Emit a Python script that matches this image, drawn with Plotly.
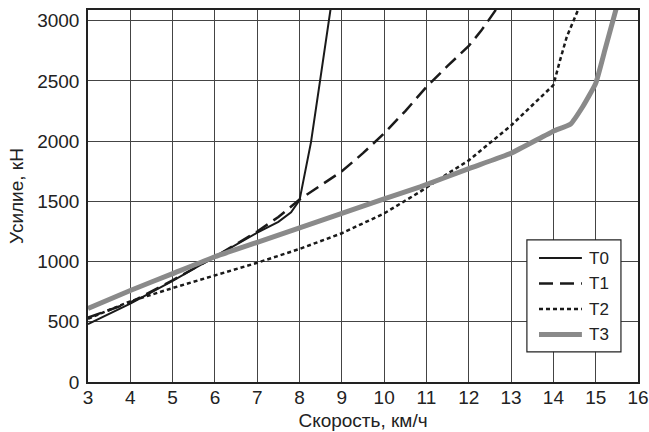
import plotly.graph_objects as go

# Data
t0_x = [3, 4, 5, 6, 7, 7.5, 7.8, 8.0, 8.13, 8.27, 8.48, 8.63, 8.76]
t0_y = [480, 650, 840, 1040, 1240, 1330, 1410, 1510, 1730, 1990, 2490, 2840, 3160]

t1_x = [3, 4, 5, 6, 7, 7.5, 8, 8.5, 9, 9.5, 10, 10.5, 11, 11.5, 12, 12.3, 12.7]
t1_y = [535, 660, 845, 1040, 1250, 1370, 1515, 1630, 1750, 1900, 2065, 2250, 2450, 2625, 2790, 2920, 3120]

t2_x = [3, 4, 5, 6, 7, 8, 9, 10, 10.85, 11.5, 12, 13, 14, 14.16, 14.32, 14.62]
t2_y = [525, 670, 780, 885, 990, 1105, 1235, 1400, 1580, 1730, 1840, 2130, 2465, 2675, 2870, 3120]

t3_x = [3, 4, 5, 6, 7, 8, 9, 10, 10.85, 12, 13, 14, 14.4, 14.7, 15, 15.22, 15.5]
t3_y = [610, 760, 900, 1040, 1160, 1280, 1400, 1520, 1620, 1772, 1900, 2083, 2140, 2290, 2480, 2760, 3120]

series_names = ["T0", "T1", "T2", "T3"]
x_ticks = list(range(3, 17))
y_ticks = [0, 500, 1000, 1500, 2000, 2500, 3000]

FONT = "Liberation Sans, Arial, sans-serif"
styles = [
    dict(color="#1a1a1a", width=2),
    dict(color="#1a1a1a", width=2.5, dash="14px,7px"),
    dict(color="#1a1a1a", width=2.5, dash="4px,3px"),
    dict(color="#8a8a8a", width=5),
]

fig = go.Figure()
for name, xs, ys, st in zip(series_names, [t0_x, t1_x, t2_x, t3_x],
                            [t0_y, t1_y, t2_y, t3_y], styles):
    line = dict(st)
    if name == "T3":
        line.update(shape="spline", smoothing=0.4)
    fig.add_trace(go.Scatter(x=xs, y=ys, mode="lines", name=name, line=line,
                             showlegend=False))

# Legend drawn manually (frame, samples, labels) in plot-domain coordinates
fig.add_shape(type="rect", xref="x domain", yref="y domain",
              x0=0.798, x1=0.969, y0=0.081, y1=0.382,
              fillcolor="white", line=dict(color="#222", width=1.2), layer="above")
entry_y = [0.333, 0.2645, 0.196, 0.128]
for name, st, yy in zip(series_names, styles, entry_y):
    fig.add_shape(type="line", xref="x domain", yref="y domain",
                  x0=0.82, x1=0.898, y0=yy, y1=yy, line=st, layer="above")
    fig.add_annotation(xref="x domain", yref="y domain", x=0.907, y=yy,
                       text=name, showarrow=False, xanchor="left", yanchor="middle",
                       font=dict(size=17, family=FONT, color="#222"))

fig.update_layout(
    width=649, height=432,
    margin=dict(l=88, r=11, t=10, b=50, autoexpand=False),
    paper_bgcolor="white", plot_bgcolor="white",
    font=dict(family=FONT, size=19, color="#222"),
    showlegend=False,
    xaxis=dict(range=[3, 16], tickvals=x_ticks, ticktext=[str(v) for v in x_ticks],
               showgrid=True, gridcolor="#444", gridwidth=1,
               showline=True, linecolor="#222", linewidth=1.5, mirror=True,
               ticks="", zeroline=False, automargin=False, ticklabelstandoff=-3,
               title=dict(text="Скорость, км/ч", standoff=7, font=dict(size=19))),
    yaxis=dict(range=[0, 3089], tickvals=y_ticks, ticktext=[str(v) for v in y_ticks],
               showgrid=True, gridcolor="#444", gridwidth=1,
               showline=True, linecolor="#222", linewidth=1.5, mirror=True,
               ticks="", zeroline=False, ticklabelstandoff=3, automargin=False,
               title=dict(text="Усилие, кН", standoff=9, font=dict(size=19))),
)

fig.write_html("out.html")
